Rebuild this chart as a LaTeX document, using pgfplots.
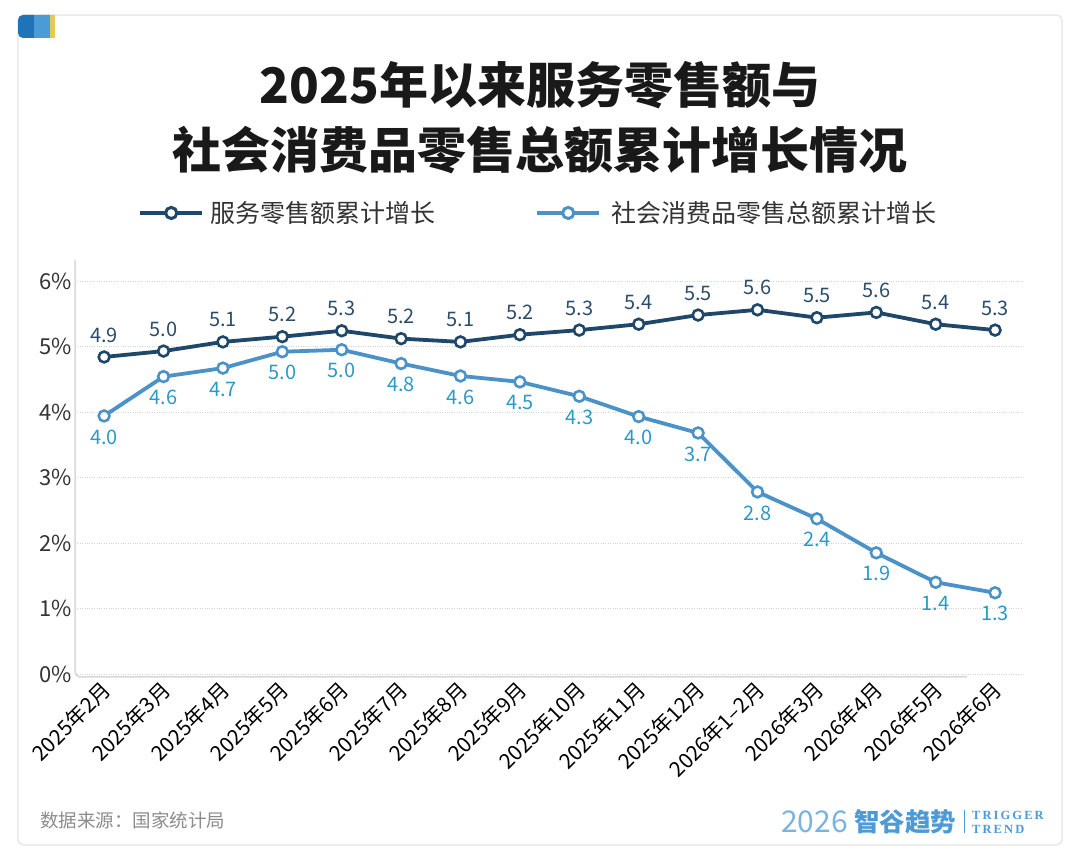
\documentclass[border=0pt]{standalone}
\usepackage{pgfplots}
\pgfplotsset{compat=1.18}
\usepackage{pgfplotstable}
\usepackage{fontspec}
\setmainfont{Noto Sans CJK SC}
\newfontfamily\logoserif{Liberation Serif}
\definecolor{darkline}{HTML}{1E4769}
\definecolor{darklbl}{HTML}{2C4D6A}
\definecolor{lightline}{HTML}{4A92C8}
\definecolor{lightlbl}{HTML}{2A9BC9}
\definecolor{gridcol}{HTML}{D2D2D2}
\definecolor{framecol}{HTML}{D8D8D8}
\definecolor{cardcol}{HTML}{E3E3E3}
\definecolor{tabA}{HTML}{1F74B8}
\definecolor{tabB}{HTML}{4B9BD6}
\definecolor{tabC}{HTML}{E6C858}
\definecolor{logoblue}{HTML}{4D9BD6}
\definecolor{txt}{HTML}{333333}

\pgfplotstableread{
x y1 l1 y2 l2
0 4.84 4.9 3.94 4.0
1 4.93 5.0 4.54 4.6
2 5.07 5.1 4.67 4.7
3 5.15 5.2 4.92 5.0
4 5.24 5.3 4.95 5.0
5 5.12 5.2 4.74 4.8
6 5.07 5.1 4.55 4.6
7 5.18 5.2 4.46 4.5
8 5.25 5.3 4.24 4.3
9 5.34 5.4 3.93 4.0
10 5.48 5.5 3.68 3.7
11 5.56 5.6 2.78 2.8
12 5.44 5.5 2.37 2.4
13 5.52 5.6 1.85 1.9
14 5.34 5.4 1.40 1.4
15 5.25 5.3 1.24 1.3
}\datatable

\begin{document}
\begin{tikzpicture}
\useasboundingbox (0pt,0pt) rectangle (1080pt,863pt);
\fill[white] (0pt,0pt) rectangle (1080pt,863pt);
% card
\draw[cardcol, line width=1.2pt, rounded corners=6pt] (18pt,18pt) rectangle (1062pt,848pt);
% tab
\begin{scope}
\clip[rounded corners=5pt] (18pt,825pt) rectangle (70pt,848pt);
\clip (18pt,825pt) rectangle (55pt,860pt);
\fill[tabA] (18pt,825pt) rectangle (34pt,850pt);
\fill[tabB] (34pt,825pt) rectangle (50pt,850pt);
\fill[tabC] (50pt,825pt) rectangle (55pt,850pt);
\end{scope}
% title
\node[font=\fontsize{49}{49}\selectfont\bfseries, text=black!90] at (540pt,778pt) {2025年以来服务零售额与};
\node[font=\fontsize{49}{49}\selectfont\bfseries, text=black!90] at (540pt,713pt) {社会消费品零售总额累计增长情况};

\begin{axis}[
  at={(75pt,189pt)}, anchor=south west,
  scale only axis, width=948pt, height=412pt,
  xmin=-0.49, xmax=15.47, ymin=0, ymax=6.29,
  axis line style={draw=none},
  major tick length=0pt,
  ytick={0,1,2,3,4,5,6},
  yticklabel={\pgfmathprintnumber{\tick}\%},
  /pgf/number format/assume math mode=true,
  ymajorgrids,
  grid style={dotted, gridcol, line width=0.9pt},
  yticklabel style={font=\fontsize{22}{22}\selectfont, text=txt, anchor=east, inner sep=0pt, xshift=-3pt},
  xtick={0,...,15},
  xticklabels={2025年2月,2025年3月,2025年4月,2025年5月,2025年6月,2025年7月,2025年8月,2025年9月,2025年10月,2025年11月,2025年12月,2026年1–2月,2026年3月,2026年4月,2026年5月,2026年6月},
  xticklabel style={font=\fontsize{21}{21}\selectfont, text=black, inner sep=0pt, xshift=3pt, yshift=-12pt, rotate=45, anchor=east},
  legend style={at={(0.0665,1.119)}, anchor=west, draw=none, fill=none, inner sep=0pt,
    legend columns=2, font=\fontsize{25}{25}\selectfont, text=txt,
    /tikz/column 1/.style={column sep=4pt},
    /tikz/column 2/.style={column sep=98pt},
    /tikz/column 3/.style={column sep=8pt}},
  clip=false,
]
\addplot[darkline, line width=3.8pt, mark=*, mark size=5.4pt,
  mark options={fill=white, draw=darkline, line width=2.6pt},
  point meta=explicit,
  nodes near coords={\pgfmathprintnumber[fixed,fixed zerofill,precision=1]{\pgfplotspointmeta}},
  every node near coord/.style={anchor=center, yshift=22pt, font=\fontsize{20}{20}\selectfont, text=darklbl},
  legend image code/.code={\draw[darkline, line width=4pt] (0pt,0pt) -- (62pt,0pt);
    \draw[darkline, fill=white, line width=3pt] (31pt,0pt) circle (5.6pt);}
] table[x=x, y=y1, meta=l1] {\datatable};
\addlegendentry{服务零售额累计增长}
\addplot[lightline, line width=3.8pt, mark=*, mark size=5.4pt,
  mark options={fill=white, draw=lightline, line width=2.6pt},
  point meta=explicit,
  nodes near coords={\pgfmathprintnumber[fixed,fixed zerofill,precision=1]{\pgfplotspointmeta}},
  every node near coord/.style={anchor=center, yshift=-21pt, font=\fontsize{20}{20}\selectfont, text=lightlbl},
  legend image code/.code={\draw[lightline, line width=4pt] (0pt,0pt) -- (62pt,0pt);
    \draw[lightline, fill=white, line width=3pt] (31pt,0pt) circle (5.6pt);}
] table[x=x, y=y2, meta=l2] {\datatable};
\addlegendentry{社会消费品零售总额累计增长}
\end{axis}
% plot frame
\draw[framecol, line width=1.5pt, rounded corners=6pt] (75pt,603pt) -- (75pt,186pt) -- (967pt,186pt);
% source
\node[anchor=west, font=\fontsize{18.5}{18.5}\selectfont, text=black!45, inner sep=0pt] at (40pt,43pt) {数据来源：国家统计局};
% logo
\node[anchor=west, font=\fontsize{30}{30}\selectfont, text=logoblue!75, inner sep=0pt] at (781pt,41pt) {2026};
\node[anchor=west, font=\fontsize{25.5}{25.5}\selectfont\bfseries, text=logoblue, inner sep=0pt] at (854pt,41pt) {智谷趋势};
\draw[logoblue, line width=1pt] (964pt,30pt) -- (964pt,53pt);
\node[anchor=west, font=\logoserif\bfseries\fontsize{12.5}{12.5}\selectfont, text=logoblue, inner sep=0pt] at (972pt,48pt) {T\,R\,I\,G\,G\,E\,R};
\node[anchor=west, font=\logoserif\bfseries\fontsize{12.5}{12.5}\selectfont, text=logoblue, inner sep=0pt] at (972pt,34pt) {T\,R\,E\,N\,D};
\end{tikzpicture}
\end{document}
